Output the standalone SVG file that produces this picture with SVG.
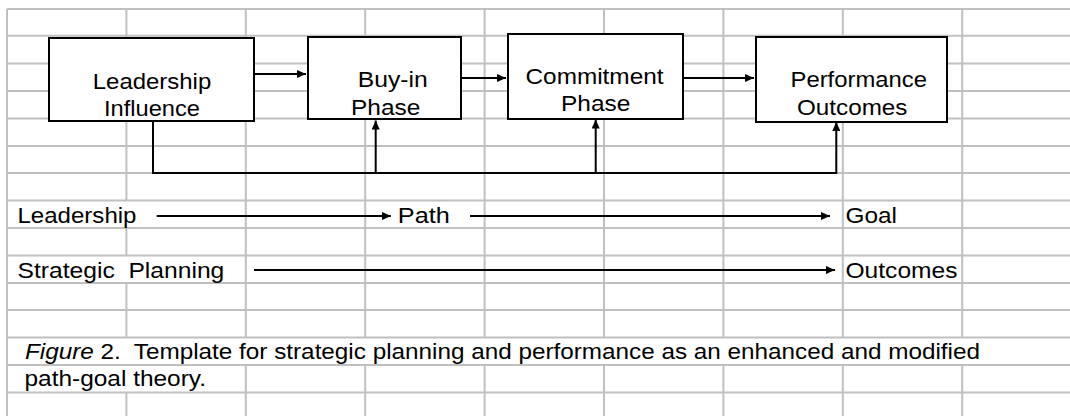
<svg xmlns="http://www.w3.org/2000/svg" width="1070" height="416" viewBox="0 0 1070 416">
  <style>
    .grid { stroke: #c0c0c0; stroke-width: 2; fill: none; }
    .box { fill: #ffffff; stroke: #000000; stroke-width: 2; }
    .wire { stroke: #000000; stroke-width: 2; fill: none; }
    .arrow { marker-end: url(#head); }
    text { font-family: "Liberation Sans", Arial, Helvetica, sans-serif; font-size: 22px; fill: #000000; white-space: pre; }
  </style>
  <defs>
    <marker id="head" markerUnits="userSpaceOnUse" markerWidth="9" markerHeight="8" refX="9" refY="4" orient="auto">
      <path d="M0,0 L9,4 L0,8 z" fill="#000000"/>
    </marker>
  </defs>

  <rect x="0" y="0" width="1070" height="416" fill="#ffffff"/>

  <!-- worksheet grid; cells under overflowing text lose their borders -->
  <g id="grid" class="grid">
    <path d="M7,9 H1070 M7,35.8 H1070 M7,63.5 H1070 M7,91 H1070 M7,118.5 H1070 M7,146 H1070 M7,173 H1070 M7,200.5 H1070 M7,228 H1070 M7,255.5 H1070 M7,283 H1070 M7,310 H1070 M7,337.5 H1070 M7,365 H1070 M7,392.5 H1070"/>
    <path d="M7,9 V416"/>
    <path d="M126.4,9 V200.5 M126.4,228 V255.5 M126.4,283 V337.5 M126.4,392.5 V416"/>
    <path d="M245.8,9 V337.5 M245.8,365 V416"/>
    <path d="M365.2,9 V337.5 M365.2,365 V416"/>
    <path d="M484.6,9 V337.5 M484.6,365 V416"/>
    <path d="M604,9 V337.5 M604,365 V416"/>
    <path d="M723.4,9 V337.5 M723.4,365 V416"/>
    <path d="M842.8,9 V337.5 M842.8,365 V416"/>
    <path d="M962.2,9 V337.5 M962.2,365 V416"/>
  </g>

  <!-- process boxes -->
  <g id="leadership-influence">
    <rect class="box" x="49" y="38" width="205" height="83"/>
    <text x="92.8" y="89.3" textLength="118.4" lengthAdjust="spacingAndGlyphs">Leadership</text>
    <text x="104" y="116" textLength="96" lengthAdjust="spacingAndGlyphs">Influence</text>
  </g>
  <g id="buy-in-phase">
    <rect class="box" x="308" y="37" width="153" height="82"/>
    <text x="357.8" y="87.3" textLength="70" lengthAdjust="spacingAndGlyphs">Buy-in</text>
    <text x="351" y="115" textLength="69.3" lengthAdjust="spacingAndGlyphs">Phase</text>
  </g>
  <g id="commitment-phase">
    <rect class="box" x="508" y="34" width="175" height="85"/>
    <text x="525.5" y="84.3" textLength="138" lengthAdjust="spacingAndGlyphs">Commitment</text>
    <text x="561" y="111" textLength="69.3" lengthAdjust="spacingAndGlyphs">Phase</text>
  </g>
  <g id="performance-outcomes">
    <rect class="box" x="756" y="37" width="191" height="85"/>
    <text x="790.5" y="87.3" textLength="136.4" lengthAdjust="spacingAndGlyphs">Performance</text>
    <text x="797" y="115" textLength="110.4" lengthAdjust="spacingAndGlyphs">Outcomes</text>
  </g>

  <!-- path-goal rows -->
  <g id="label-leadership">
    <text x="17.5" y="222.5" textLength="119" lengthAdjust="spacingAndGlyphs">Leadership</text>
  </g>
  <g id="label-path">
    <text x="397.8" y="222.5" textLength="52" lengthAdjust="spacingAndGlyphs">Path</text>
  </g>
  <g id="label-goal">
    <text x="845.5" y="223" textLength="51.5" lengthAdjust="spacingAndGlyphs">Goal</text>
  </g>
  <g id="label-strategic-planning">
    <text x="17.5" y="277.5" textLength="206.8" lengthAdjust="spacingAndGlyphs">Strategic  Planning</text>
  </g>
  <g id="label-outcomes">
    <text x="845.5" y="277.5" textLength="112" lengthAdjust="spacingAndGlyphs">Outcomes</text>
  </g>

  <!-- connectors -->
  <g id="connectors" class="wire">
    <line class="arrow" x1="254" y1="74" x2="306" y2="74"/>
    <line class="arrow" x1="461" y1="78" x2="506" y2="78"/>
    <line class="arrow" x1="683" y1="78" x2="754" y2="78"/>
    <polyline class="arrow" points="153,121 153,173 836.3,173 836.3,122"/>
    <line class="arrow" x1="375.7" y1="173" x2="375.7" y2="120.5"/>
    <line class="arrow" x1="595.7" y1="173" x2="595.7" y2="119.5"/>
    <line class="arrow" x1="156.7" y1="216" x2="391" y2="216"/>
    <line class="arrow" x1="470" y1="216" x2="830" y2="216"/>
    <line class="arrow" x1="254" y1="270" x2="835" y2="270"/>
  </g>

  <!-- caption -->
  <g id="caption">
    <text x="25" y="358.5" textLength="955" lengthAdjust="spacingAndGlyphs"><tspan font-style="italic">Figure</tspan> 2.  Template for strategic planning and performance as an enhanced and modified</text>
    <text x="24.5" y="386" textLength="181.5" lengthAdjust="spacingAndGlyphs">path-goal theory.</text>
  </g>
</svg>
